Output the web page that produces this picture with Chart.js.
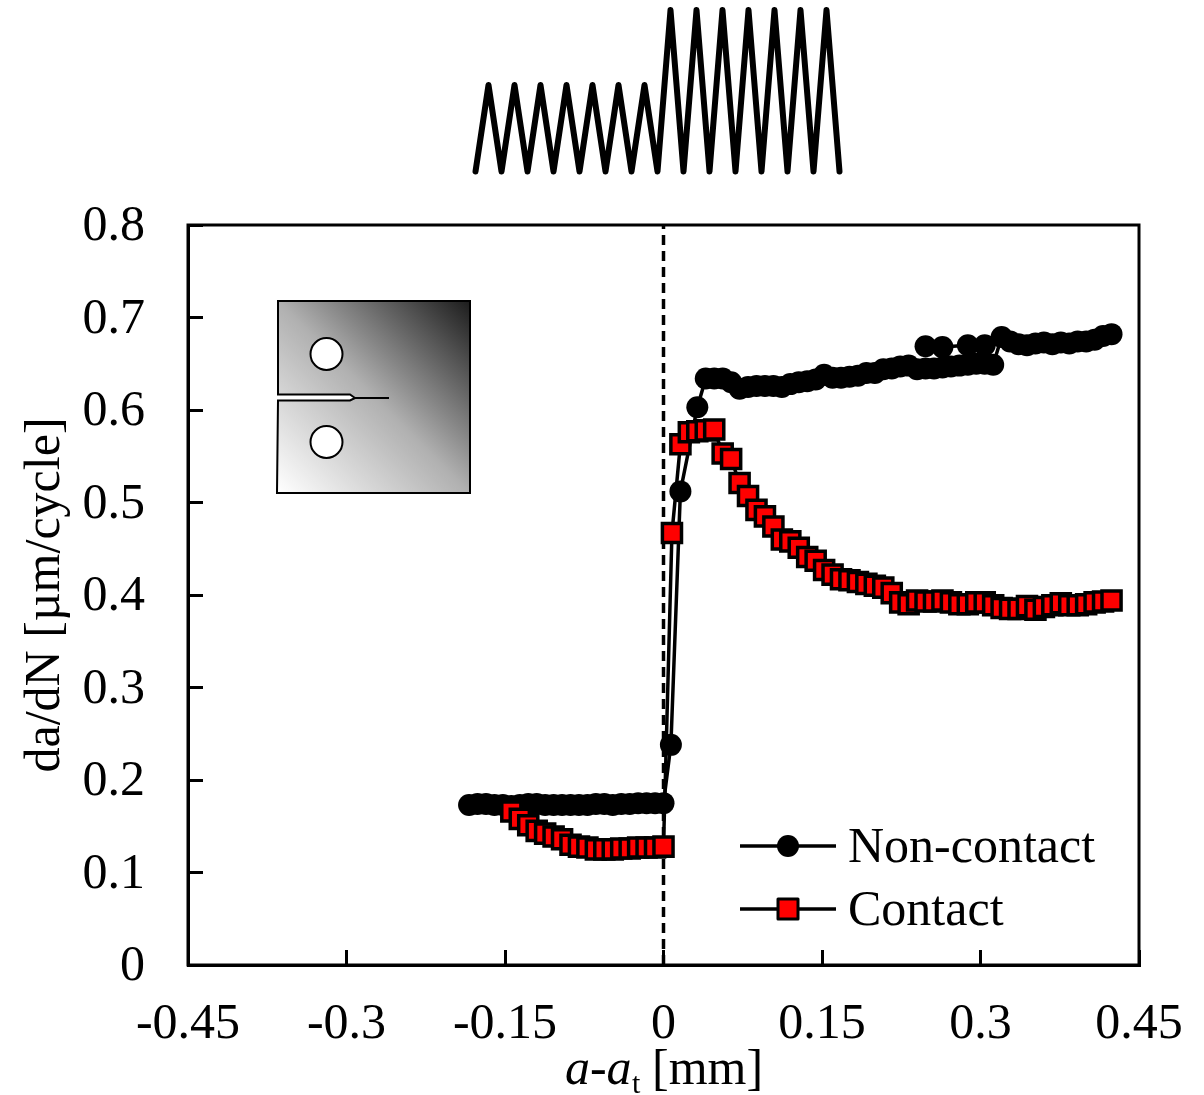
<!DOCTYPE html>
<html>
<head>
<meta charset="utf-8">
<title>da/dN vs a-at</title>
<script src="https://cdn.jsdelivr.net/npm/chart.js@4"></script>
<style>
  html, body { margin: 0; padding: 0; background: #fff; }
  canvas { display: block; }
</style>
</head>
<body>
<canvas id="chart-canvas" width="1204" height="1095"></canvas>
<script>
// tick values and labels
const xTicks = [-0.45, -0.3, -0.15, 0, 0.15, 0.3, 0.45];
const xTickLabels = ["-0.45", "-0.3", "-0.15", "0", "0.15", "0.3", "0.45"];
const yTicks = [0, 0.1, 0.2, 0.3, 0.4, 0.5, 0.6, 0.7, 0.8];
const yTickLabels = ["0", "0.1", "0.2", "0.3", "0.4", "0.5", "0.6", "0.7", "0.8"];

const seriesNames = ["Non-contact", "Contact"];

// non-contact, main run
const nonContactX = [
  -0.184, -0.176, -0.168, -0.160, -0.152, -0.144, -0.136, -0.128, -0.120, -0.112, -0.104, -0.096,
  -0.088, -0.080, -0.072, -0.064, -0.056, -0.048, -0.040, -0.032, -0.024, -0.016, -0.008, 0,
  0.007, 0.016, 0.032, 0.040, 0.048, 0.056, 0.064, 0.072, 0.080, 0.088, 0.096, 0.104,
  0.112, 0.120, 0.128, 0.136, 0.144, 0.152, 0.160, 0.168, 0.176, 0.184, 0.192, 0.200,
  0.208, 0.216, 0.224, 0.232, 0.240, 0.248, 0.256, 0.264, 0.272, 0.280, 0.288, 0.296,
  0.304, 0.312, 0.320, 0.328, 0.336, 0.344, 0.352, 0.360, 0.368, 0.376, 0.384, 0.392,
  0.400, 0.408, 0.416, 0.424
];
const nonContactY = [
  0.173, 0.174, 0.174, 0.173, 0.173, 0.172, 0.173, 0.174, 0.174, 0.173, 0.173, 0.173,
  0.173, 0.173, 0.173, 0.174, 0.174, 0.173, 0.174, 0.174, 0.175, 0.175, 0.175, 0.175,
  0.238, 0.512, 0.603, 0.634, 0.634, 0.634, 0.630, 0.623, 0.625, 0.626, 0.626, 0.626,
  0.625, 0.628, 0.630, 0.631, 0.633, 0.638, 0.635, 0.635, 0.636, 0.637, 0.640, 0.640,
  0.644, 0.645, 0.647, 0.648, 0.644, 0.645, 0.645, 0.646, 0.647, 0.648, 0.649, 0.650,
  0.650, 0.649, 0.679, 0.674, 0.671, 0.670, 0.672, 0.673, 0.671, 0.673, 0.672, 0.674,
  0.674, 0.676, 0.680, 0.682
];

// non-contact, short upper run above the main one
const nonContactUpperX = [0.248, 0.264, 0.288, 0.304];
const nonContactUpperY = [0.669, 0.668, 0.670, 0.670];

const contactX = [
  -0.144, -0.136, -0.128, -0.120, -0.112, -0.104, -0.096, -0.088, -0.080, -0.072, -0.064, -0.056,
  -0.048, -0.040, -0.032, -0.024, -0.016, -0.008, 0,
  0.008, 0.016, 0.024, 0.032, 0.040, 0.048, 0.056, 0.064, 0.072, 0.080, 0.088, 0.096,
  0.104, 0.112, 0.120, 0.128, 0.136, 0.144, 0.152, 0.160, 0.168, 0.176, 0.184, 0.192,
  0.200, 0.208, 0.216, 0.224, 0.232, 0.240, 0.248, 0.256, 0.264, 0.272, 0.280, 0.288,
  0.296, 0.304, 0.312, 0.320, 0.328, 0.336, 0.344, 0.352, 0.360, 0.368, 0.376, 0.384,
  0.392, 0.400, 0.408, 0.416, 0.424
];
const contactY = [
  0.166, 0.158, 0.151, 0.145, 0.142, 0.139, 0.136, 0.130, 0.128, 0.127, 0.125, 0.125,
  0.125, 0.126, 0.126, 0.127, 0.127, 0.127, 0.128,
  0.467, 0.563, 0.576, 0.577, 0.578, 0.579, 0.553, 0.547, 0.521, 0.507, 0.492, 0.485,
  0.474, 0.460, 0.458, 0.451, 0.441, 0.437, 0.427, 0.422, 0.417, 0.416, 0.414, 0.412,
  0.410, 0.408, 0.402, 0.392, 0.390, 0.394, 0.393, 0.393, 0.394, 0.392, 0.390, 0.390,
  0.392, 0.392, 0.389, 0.386, 0.385, 0.385, 0.388, 0.384, 0.387, 0.389, 0.391, 0.389,
  0.389, 0.390, 0.392, 0.393, 0.394
];

// dashed line at the transition
const transitionX = [0, 0];
const transitionY = [0, 0.8];

function toPoints(xs, ys) {
  return xs.map((x, i) => ({ x: x, y: ys[i] }));
}

const serif = '"Liberation Serif", "Times New Roman", serif';

// load waveform, specimen sketch, frame, legend and x title
const decorations = {
  id: 'decorations',
  beforeDatasetsDraw(chart) {
    const ctx = chart.ctx;
    ctx.save();
    // CT specimen sketch
    const grad = ctx.createLinearGradient(278, 493, 470, 301);
    grad.addColorStop(0, '#ffffff');
    grad.addColorStop(0.5, '#b0b0b0');
    grad.addColorStop(1, '#1c1c1c');
    ctx.beginPath();
    ctx.moveTo(278, 301);
    ctx.lineTo(470, 301);
    ctx.lineTo(470, 493);
    ctx.lineTo(277, 493);
    ctx.lineTo(278, 400.5);
    ctx.lineTo(350, 400.5);
    ctx.lineTo(355, 398);
    ctx.lineTo(350, 394.5);
    ctx.lineTo(278, 394.5);
    ctx.closePath();
    ctx.fillStyle = grad;
    ctx.fill();
    ctx.strokeStyle = '#000';
    ctx.lineWidth = 2;
    ctx.stroke();
    ctx.beginPath();
    ctx.moveTo(355, 398);
    ctx.lineTo(389, 398);
    ctx.stroke();
    [354, 442].forEach(function (cy) {
      ctx.beginPath();
      ctx.arc(326.5, cy, 16, 0, Math.PI * 2);
      ctx.fillStyle = '#fff';
      ctx.fill();
      ctx.stroke();
    });
    ctx.restore();
  },
  afterDraw(chart) {
    const ctx = chart.ctx;
    const area = chart.chartArea;
    ctx.save();

    // frame
    ctx.strokeStyle = '#000';
    ctx.lineWidth = 3;
    ctx.strokeRect(area.left, area.top, area.right - area.left, area.bottom - area.top);

    // load waveform, 7 small cycles then 7 large ones
    ctx.lineWidth = 6;
    ctx.lineJoin = 'round';
    ctx.lineCap = 'round';
    ctx.beginPath();
    ctx.moveTo(475.5, 171.5);
    for (let i = 0; i < 14; i++) {
      ctx.lineTo(488.5 + i * 26, i < 7 ? 85 : 10);
      ctx.lineTo(501.5 + i * 26, 171.5);
    }
    ctx.stroke();

    // legend
    ctx.lineCap = 'butt';
    ctx.font = '50px ' + serif;
    ctx.fillStyle = '#000';
    ctx.textBaseline = 'alphabetic';
    ctx.textAlign = 'left';
    ctx.lineWidth = 3.5;
    [[846, 862], [909, 925]].forEach(function (row, i) {
      ctx.beginPath();
      ctx.moveTo(740, row[0]);
      ctx.lineTo(836, row[0]);
      ctx.strokeStyle = '#000';
      ctx.stroke();
      if (i === 0) {
        ctx.beginPath();
        ctx.arc(788, row[0], 11, 0, Math.PI * 2);
        ctx.fillStyle = '#000';
        ctx.fill();
      } else {
        ctx.fillStyle = '#f00';
        ctx.fillRect(778, row[0] - 10, 20, 20);
        ctx.lineWidth = 3;
        ctx.strokeRect(778, row[0] - 10, 20, 20);
      }
      ctx.fillStyle = '#000';
      ctx.fillText(seriesNames[i], 848, row[1]);
    });

    // x title, mixed italic and subscript so the scale title cannot do it
    const base = 1084;
    ctx.font = 'italic 50px ' + serif;
    ctx.fillText('a', 565, base);
    ctx.font = '50px ' + serif;
    ctx.fillText('-', 590, base);
    ctx.font = 'italic 50px ' + serif;
    ctx.fillText('a', 606.5, base);
    ctx.font = '30px ' + serif;
    ctx.fillText('t', 632, 1093);
    ctx.font = '50px ' + serif;
    ctx.fillText('[mm]', 652, base);
    ctx.restore();
  }
};

new Chart(document.getElementById('chart-canvas'), {
  type: 'scatter',
  data: {
    datasets: [
      {
        label: 'transition',
        data: toPoints(transitionX, transitionY),
        showLine: true,
        borderColor: '#000',
        borderWidth: 3.5,
        borderDash: [10, 6],
        pointRadius: 0,
        order: 4
      },
      {
        label: seriesNames[0],
        data: toPoints(nonContactX, nonContactY),
        showLine: true,
        borderColor: '#000',
        borderWidth: 3.5,
        pointStyle: 'circle',
        pointRadius: 11,
        pointBackgroundColor: '#000',
        pointBorderColor: '#000',
        pointBorderWidth: 0,
        order: 3
      },
      {
        label: seriesNames[0] + ' upper',
        data: toPoints(nonContactUpperX, nonContactUpperY),
        showLine: true,
        borderColor: '#000',
        borderWidth: 3.5,
        pointStyle: 'circle',
        pointRadius: 11,
        pointBackgroundColor: '#000',
        pointBorderColor: '#000',
        pointBorderWidth: 0,
        order: 2
      },
      {
        label: seriesNames[1],
        data: toPoints(contactX, contactY),
        showLine: true,
        borderColor: '#000',
        borderWidth: 3.5,
        pointStyle: 'rect',
        pointRadius: 13.5,
        pointBackgroundColor: '#f00',
        pointBorderColor: '#000',
        pointBorderWidth: 3.5,
        order: 1
      }
    ]
  },
  options: {
    responsive: false,
    animation: false,
    layout: { padding: { left: 0, top: 225, right: 65, bottom: 0 } },
    plugins: {
      legend: { display: false },
      tooltip: { enabled: false }
    },
    scales: {
      x: {
        type: 'linear',
        min: -0.45,
        max: 0.45,
        afterBuildTicks(scale) { scale.ticks = xTicks.map(v => ({ value: v })); },
        afterFit(scale) {
          scale.height = 130;
          // last label hangs over the right edge, keep the plot width fixed
          scale.paddingLeft = 0;
          scale.paddingRight = 0;
        },
        ticks: {
          autoSkip: false,
          maxRotation: 0,
          color: '#000',
          padding: 45,
          font: { family: serif, size: 50 },
          callback: (v, i) => xTickLabels[i]
        },
        grid: { drawOnChartArea: false, tickLength: -15, tickWidth: 3, tickColor: '#000' },
        border: { color: '#000', width: 3 }
      },
      y: {
        type: 'linear',
        min: 0,
        max: 0.8,
        afterBuildTicks(scale) { scale.ticks = yTicks.map(v => ({ value: v })); },
        afterFit(scale) { scale.width = 188; },
        title: {
          display: true,
          text: 'da/dN [µm/cycle]',
          color: '#000',
          padding: { top: 16, bottom: 0 },
          font: { family: serif, size: 50 }
        },
        ticks: {
          autoSkip: false,
          color: '#000',
          padding: 58,
          labelOffset: 2,
          font: { family: serif, size: 50 },
          callback: (v, i) => yTickLabels[i]
        },
        grid: { drawOnChartArea: false, tickLength: -15, tickWidth: 3, tickColor: '#000' },
        border: { color: '#000', width: 3 }
      }
    }
  },
  plugins: [decorations]
});
</script>
</body>
</html>
